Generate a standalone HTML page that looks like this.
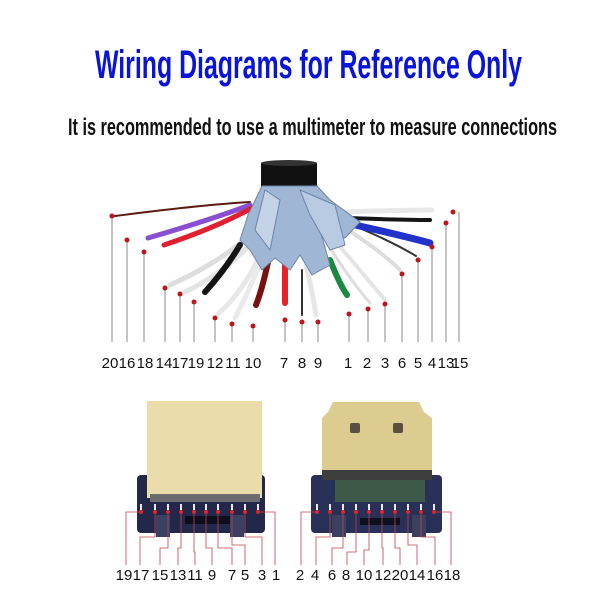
<!DOCTYPE html>
<html><head><meta charset="utf-8"><style>
html,body{margin:0;padding:0;background:#fff;}
svg{display:block}
text{font-family:"Liberation Sans",sans-serif}
</style></head><body>
<svg width="600" height="600" viewBox="0 0 600 600" xmlns="http://www.w3.org/2000/svg">
<rect width="600" height="600" fill="#fff"/>
<text x="95" y="78" font-size="40" font-weight="bold" fill="#0a14d8" textLength="427" lengthAdjust="spacingAndGlyphs">Wiring Diagrams for Reference Only</text>
<text x="68" y="135" font-size="24" font-weight="bold" fill="#111" textLength="489" lengthAdjust="spacingAndGlyphs">It is recommended to use a multimeter to measure connections</text>

<rect x="261" y="163" width="56" height="25" fill="#111"/>
<ellipse cx="289" cy="163" rx="28" ry="3" fill="#333"/>
<g stroke-linecap="round" fill="none">
<path d="M250 202 Q200 205 115 216" stroke="#5a1a10" stroke-width="2"/>
<path d="M250 205 Q210 220 148 238" stroke="#8a4fd0" stroke-width="5"/>
<path d="M252 208 Q215 228 164 245" stroke="#e02030" stroke-width="5"/>
<path d="M255 230 Q225 260 170 285" stroke="#ddd" stroke-width="5"/>
<path d="M258 235 Q230 270 185 292" stroke="#e4e4e4" stroke-width="5"/>
<path d="M240 245 Q225 270 205 292" stroke="#151515" stroke-width="6"/>
<path d="M262 250 Q245 290 218 314" stroke="#e8e8e8" stroke-width="5"/>
<path d="M265 250 Q250 290 235 318" stroke="#eaeaea" stroke-width="5"/>
<path d="M268 262 Q262 290 256 305" stroke="#7a1010" stroke-width="6"/>
<path d="M285 265 L285 303" stroke="#e82028" stroke-width="6"/>
<path d="M302 270 L302 315" stroke="#333" stroke-width="2"/>
<path d="M306 265 Q312 290 316 315" stroke="#e6e6e6" stroke-width="5"/>
<path d="M330 260 Q340 285 347 295" stroke="#1a8a40" stroke-width="6"/>
<path d="M325 240 Q350 280 370 303" stroke="#ddd" stroke-width="3"/>
<path d="M330 235 Q360 270 385 300" stroke="#e4e4e4" stroke-width="4"/>
<path d="M340 225 Q380 250 400 270" stroke="#ddd" stroke-width="4"/>
<path d="M340 220 Q390 240 416 256" stroke="#333" stroke-width="2"/>
<path d="M355 225 Q400 235 430 243" stroke="#2233cc" stroke-width="7"/>
<path d="M350 218 Q400 220 430 220" stroke="#151515" stroke-width="4"/>
<path d="M345 212 Q400 210 432 210" stroke="#e8e8e8" stroke-width="5"/>
</g>
<g fill="#9fb6d4" stroke="#6d85a8" stroke-width="1">
<path d="M262 186 L317 186 L330 200 L360 222 L345 238 L320 230 L330 265 L312 275 L300 255 L290 270 L275 258 L262 270 L250 250 L240 240 L248 215 Z"/>
<path d="M300 190 L335 205 L345 245 L330 250 L310 215 Z" fill="#b9cbe2"/>
<path d="M265 190 L255 230 L270 250 L280 200 Z" fill="#c4d3e6"/>
</g>
<g stroke="#888" stroke-width="1">
<line x1="112" y1="216" x2="112" y2="342"/><line x1="127" y1="240" x2="127" y2="342"/><line x1="144" y1="252" x2="144" y2="342"/>
<line x1="165" y1="288" x2="165" y2="342"/><line x1="180" y1="294" x2="180" y2="342"/><line x1="194" y1="302" x2="194" y2="342"/>
<line x1="215" y1="318" x2="215" y2="342"/><line x1="232" y1="324" x2="232" y2="342"/><line x1="253" y1="326" x2="253" y2="342"/>
<line x1="285" y1="320" x2="285" y2="342"/><line x1="302" y1="322" x2="302" y2="342"/><line x1="318" y1="322" x2="318" y2="342"/>
<line x1="349" y1="314" x2="349" y2="342"/><line x1="368" y1="309" x2="368" y2="342"/><line x1="385" y1="304" x2="385" y2="342"/>
<line x1="402" y1="274" x2="402" y2="342"/><line x1="418" y1="260" x2="418" y2="342"/><line x1="432" y1="247" x2="432" y2="342"/>
<line x1="446" y1="223" x2="446" y2="342"/><line x1="459" y1="212" x2="459" y2="342"/>
</g>
<g fill="#c0141c">
<circle cx="112" cy="216" r="2.5"/><circle cx="127" cy="240" r="2.5"/><circle cx="144" cy="252" r="2.5"/>
<circle cx="165" cy="288" r="2.5"/><circle cx="180" cy="294" r="2.5"/><circle cx="194" cy="302" r="2.5"/>
<circle cx="215" cy="318" r="2.5"/><circle cx="232" cy="324" r="2.5"/><circle cx="253" cy="326" r="2.5"/>
<circle cx="285" cy="320" r="2.5"/><circle cx="302" cy="322" r="2.5"/><circle cx="318" cy="322" r="2.5"/>
<circle cx="349" cy="314" r="2.5"/><circle cx="368" cy="309" r="2.5"/><circle cx="385" cy="304" r="2.5"/>
<circle cx="402" cy="274" r="2.5"/><circle cx="418" cy="260" r="2.5"/><circle cx="432" cy="247" r="2.5"/>
<circle cx="446" cy="223" r="2.5"/><circle cx="453" cy="212" r="2.5"/>
</g>
<g font-size="15" fill="#111" text-anchor="middle">
<text x="110" y="368">20</text><text x="127" y="368">16</text><text x="145" y="368">18</text><text x="164" y="368">14</text>
<text x="180" y="368">17</text><text x="196" y="368">19</text><text x="215" y="368">12</text><text x="233" y="368">11</text>
<text x="253" y="368">10</text><text x="284" y="368">7</text><text x="302" y="368">8</text><text x="318" y="368">9</text>
<text x="348" y="368">1</text><text x="367" y="368">2</text><text x="385" y="368">3</text><text x="402" y="368">6</text>
<text x="418" y="368">5</text><text x="432" y="368">4</text><text x="446" y="368">13</text><text x="460" y="368">15</text>
</g>

<rect x="137" y="475" width="128" height="58" rx="4" fill="#23284a"/>
<rect x="147" y="401" width="115" height="97" fill="#eadcab"/>
<rect x="150" y="494" width="110" height="8" fill="#6d6d70"/>
<rect x="185" y="516" width="52" height="8" fill="#0d0f1c"/>
<rect x="156" y="515" width="14" height="22" fill="#3a4060"/>
<rect x="230" y="515" width="14" height="22" fill="#3a4060"/>
<rect x="311" y="475" width="131" height="58" rx="4" fill="#283058"/>
<path d="M333 402 L419 402 L424 412 L432 418 L432 470 L322 470 L322 418 L328 412 Z" fill="#dccc8f"/>
<rect x="322" y="470" width="110" height="10" fill="#3e3e3e"/>
<rect x="335" y="480" width="90" height="22" fill="#3d5a48"/>
<rect x="350" y="423" width="10" height="10" rx="2" fill="#5a5040"/>
<rect x="393" y="423" width="10" height="10" rx="2" fill="#5a5040"/>
<rect x="360" y="518" width="40" height="7" fill="#0d0f1c"/>
<rect x="332" y="515" width="14" height="22" fill="#3a4060"/>
<rect x="412" y="515" width="14" height="22" fill="#3a4060"/>
<g stroke="#e8e8e8" stroke-width="2" fill="none">
<path d="M141 512 v-8 M155 512 v-8 M168 512 v-8 M181 512 v-8 M194 512 v-8 M206 512 v-8 M218 512 v-8 M232 512 v-8 M245 512 v-8 M258 512 v-8"/>
<path d="M317 512 v-8 M330 512 v-8 M343 512 v-8 M356 512 v-8 M369 512 v-8 M382 512 v-8 M395 512 v-8 M408 512 v-8 M421 512 v-8 M434 512 v-8"/>
</g>
<g stroke="#c0444c" stroke-width="0.8" fill="none">
<path d="M141 512 H126 V565"/><path d="M155 512 V537 H140 V565"/><path d="M168 512 V548 H160 V565"/>
<path d="M181 512 V548 H178 V565"/><path d="M194 512 V552 H195 V565"/><path d="M206 512 V548 H212 V565"/>
<path d="M218 512 V548 H232 V565"/><path d="M232 512 V545 H245 V565"/><path d="M245 512 V537 H262 V565"/>
<path d="M258 512 H275 V565"/>
<path d="M317 512 H301 V565"/><path d="M330 512 V537 H316 V565"/><path d="M343 512 V548 H332 V565"/>
<path d="M356 512 V552 H347 V565"/><path d="M369 512 V550 H364 V565"/><path d="M382 512 V548 H383 V565"/>
<path d="M395 512 V548 H400 V565"/><path d="M408 512 V545 H417 V565"/><path d="M421 512 V537 H435 V565"/>
<path d="M434 512 H451 V565"/>
</g>
<g fill="#e0202a">
<circle cx="141" cy="512" r="2"/><circle cx="155" cy="512" r="2"/><circle cx="168" cy="512" r="2"/><circle cx="181" cy="512" r="2"/><circle cx="194" cy="512" r="2"/><circle cx="206" cy="512" r="2"/><circle cx="218" cy="512" r="2"/><circle cx="232" cy="512" r="2"/><circle cx="245" cy="512" r="2"/><circle cx="258" cy="512" r="2"/>
<circle cx="317" cy="512" r="2"/><circle cx="330" cy="512" r="2"/><circle cx="343" cy="512" r="2"/><circle cx="356" cy="512" r="2"/><circle cx="369" cy="512" r="2"/><circle cx="382" cy="512" r="2"/><circle cx="395" cy="512" r="2"/><circle cx="408" cy="512" r="2"/><circle cx="421" cy="512" r="2"/><circle cx="434" cy="512" r="2"/>
</g>
<g font-size="15" fill="#111" text-anchor="middle">
<text x="124" y="580">19</text><text x="141" y="580">17</text><text x="160" y="580">15</text><text x="178" y="580">13</text>
<text x="195" y="580">11</text><text x="212" y="580">9</text><text x="232" y="580">7</text><text x="245" y="580">5</text>
<text x="262" y="580">3</text><text x="276" y="580">1</text>
<text x="300" y="580">2</text><text x="315" y="580">4</text><text x="332" y="580">6</text><text x="346" y="580">8</text>
<text x="364" y="580">10</text><text x="383" y="580">12</text><text x="400" y="580">20</text><text x="417" y="580">14</text>
<text x="435" y="580">16</text><text x="452" y="580">18</text>
</g>
</svg>
</body></html>
